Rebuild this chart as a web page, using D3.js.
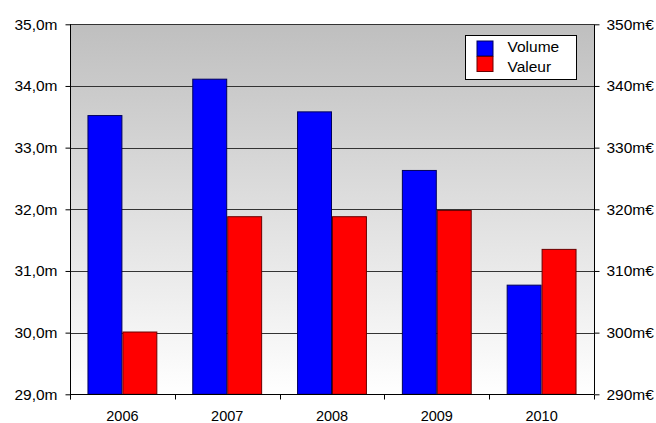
<!DOCTYPE html>
<html>
<head>
<meta charset="utf-8">
<script src="https://cdn.jsdelivr.net/npm/d3@7"></script>
<style>
  html, body { margin: 0; padding: 0; background: #ffffff; }
  svg { display: block; }
  text { font-family: "Liberation Sans", Arial, sans-serif; fill: #000; }
</style>
</head>
<body>
<svg id="chart" width="656" height="423"></svg>
<script>
// Data
const years = ["2006", "2007", "2008", "2009", "2010"];
const volume = [33.52, 34.11, 33.58, 32.63, 30.77];      // millions (left axis)
const valeur = [300.1, 318.8, 318.8, 319.8, 313.5];      // m€ (right axis)
const volumeTicks = [29, 30, 31, 32, 33, 34, 35];
const valeurTicks = [290, 300, 310, 320, 330, 340, 350];
const seriesNames = ["Volume", "Valeur"];

const W = 656, H = 423;
const plot = { left: 70, right: 594, top: 24.3, bottom: 394.3 };

const svg = d3.select("#chart");

const x = d3.scaleBand()
  .domain(years)
  .range([plot.left, plot.right])
  .paddingInner(1 / 3)
  .paddingOuter(1 / 6);
const step = x.step();
const xs = d3.scaleBand().domain(seriesNames).range([0, x.bandwidth()]);

const yL = d3.scaleLinear().domain([29, 35]).range([plot.bottom, plot.top]);
const yR = d3.scaleLinear().domain([290, 350]).range([plot.bottom, plot.top]);

// Plot-area background: grey at the top fading to white
const defs = svg.append("defs");
const grad = defs.append("linearGradient")
  .attr("id", "bg").attr("x1", 0).attr("y1", 0).attr("x2", 0).attr("y2", 1);
grad.append("stop").attr("offset", "0%").attr("stop-color", "#bfbfbf");
grad.append("stop").attr("offset", "100%").attr("stop-color", "#ffffff");

svg.append("rect")
  .attr("x", plot.left).attr("y", plot.top)
  .attr("width", plot.right - plot.left).attr("height", plot.bottom - plot.top)
  .attr("fill", "url(#bg)");

// Horizontal gridlines
svg.append("g")
  .selectAll("line")
  .data(volumeTicks.slice(1))
  .join("line")
  .attr("x1", plot.left).attr("x2", plot.right)
  .attr("y1", d => Math.round(yL(d)) + 0.5)
  .attr("y2", d => Math.round(yL(d)) + 0.5)
  .attr("stroke", "#333")
  .attr("stroke-width", 1);

// Bars
const groups = svg.append("g")
  .selectAll("g")
  .data(years)
  .join("g")
  .attr("transform", d => `translate(${x(d)},0)`);

groups.append("rect")
  .attr("x", xs("Volume") + 0.5)
  .attr("width", xs.bandwidth() - 1)
  .attr("y", (d, i) => yL(volume[i]))
  .attr("height", (d, i) => plot.bottom - yL(volume[i]))
  .attr("fill", "#0000ff")
  .attr("stroke", "#00005a")
  .attr("stroke-width", 1);

groups.append("rect")
  .attr("x", xs("Valeur") + 0.5)
  .attr("width", xs.bandwidth() - 1)
  .attr("y", (d, i) => yR(valeur[i]))
  .attr("height", (d, i) => plot.bottom - yR(valeur[i]))
  .attr("fill", "#ff0000")
  .attr("stroke", "#6a0000")
  .attr("stroke-width", 1);

// Left axis
const leftAxis = svg.append("g")
  .attr("transform", `translate(${plot.left + 0.5},0)`)
  .call(d3.axisLeft(yL)
    .tickValues(volumeTicks)
    .tickSize(5)
    .tickPadding(8)
    .tickFormat(d => d3.format(".1f")(d).replace(".", ",") + "m"));

// Right axis
const rightAxis = svg.append("g")
  .attr("transform", `translate(${plot.right + 0.5},0)`)
  .call(d3.axisRight(yR)
    .tickValues(valeurTicks)
    .tickSize(5)
    .tickPadding(7)
    .tickFormat(d => d + "m\u20ac"));

// Bottom axis: year labels, with ticks on the category boundaries
const bottomAxis = svg.append("g")
  .attr("transform", `translate(0,${Math.round(plot.bottom) + 0.5})`)
  .call(d3.axisBottom(x).tickSize(0).tickPadding(16.5));

bottomAxis.selectAll(".tickBound")
  .data(d3.range(years.length + 1))
  .join("line")
  .attr("class", "tickBound")
  .attr("x1", i => Math.round(plot.left + i * step) + 0.5)
  .attr("x2", i => Math.round(plot.left + i * step) + 0.5)
  .attr("y1", 0).attr("y2", 5)
  .attr("stroke", "#000");

[leftAxis, rightAxis, bottomAxis].forEach(g => {
  g.selectAll("path.domain").attr("stroke", "#000").attr("stroke-width", 1);
  g.selectAll(".tick line").attr("stroke", "#000");
  g.selectAll("text")
    .attr("font-family", "'Liberation Sans', Arial, sans-serif")
    .attr("font-size", 15.5)
    .attr("fill", "#000");
});
bottomAxis.selectAll("text").attr("font-size", 14.5);
leftAxis.select("path.domain").attr("d", `M-0,${plot.top}V${plot.bottom + 5}`);
rightAxis.select("path.domain").attr("d", `M0,${plot.top}V${plot.bottom}`);
bottomAxis.select("path.domain").attr("d", `M${plot.left},0H${plot.right}`);

// Legend
const legend = svg.append("g").attr("transform", "translate(465.5,35.5)");
legend.append("rect")
  .attr("width", 111).attr("height", 44)
  .attr("fill", "#fff").attr("stroke", "#000");
const legendColors = ["#0000ff", "#ff0000"];
const legendStrokes = ["#00005a", "#6a0000"];
seriesNames.forEach((name, i) => {
  legend.append("rect")
    .attr("x", 11.5).attr("y", 5.5 + i * 15.5)
    .attr("width", 16).attr("height", 15)
    .attr("fill", legendColors[i])
    .attr("stroke", legendStrokes[i]);
  legend.append("text")
    .attr("x", 42).attr("y", 16 + i * 20)
    .attr("font-size", 15.5)
    .text(name);
});
</script>
</body>
</html>
